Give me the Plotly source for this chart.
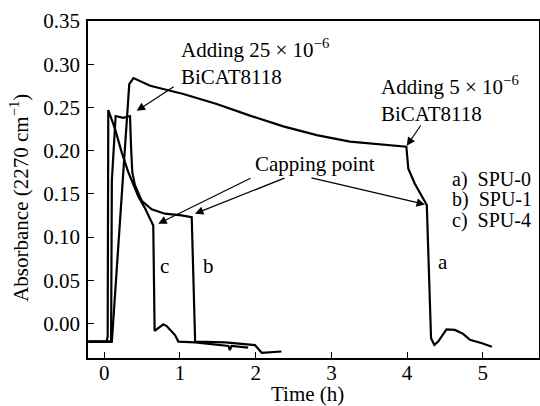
import plotly.graph_objects as go

# ---- data ----
a_time = [-0.21, 0.10, 0.33, 0.385, 0.606, 0.824, 1.044, 1.485, 1.925, 2.365, 2.806, 3.246,
          3.686, 3.99, 4.016, 4.10, 4.26, 4.316, 4.36, 4.41, 4.52, 4.63, 4.74, 4.83, 4.99, 5.12]
a_abs = [-0.021, -0.021, 0.277, 0.284, 0.275, 0.270, 0.2655, 0.254, 0.2405, 0.228, 0.218, 0.2105,
         0.2065, 0.2045, 0.179, 0.162, 0.137, -0.017, -0.025, -0.021, -0.007, -0.0075, -0.012,
         -0.019, -0.023, -0.027]

b_time = [-0.21, 0.09, 0.10, 0.15, 0.25, 0.34, 0.353, 0.37, 0.405, 0.494, 0.626, 0.80, 1.02,
          1.155, 1.20, 1.60, 1.99, 2.08, 2.34]
b_abs = [-0.021, -0.021, 0.165, 0.240, 0.238, 0.240, 0.2056, 0.175, 0.160, 0.142, 0.132, 0.127,
         0.125, 0.123, -0.021, -0.022, -0.025, -0.034, -0.0325]

c_time = [-0.21, 0.03, 0.045, 0.053, 0.143, 0.23, 0.317, 0.40, 0.45, 0.54, 0.647, 0.665, 0.78,
          0.824, 0.934, 0.978, 1.20, 1.64, 1.66, 1.68, 1.90]
c_abs = [-0.021, -0.021, -0.015, 0.247, 0.225, 0.198, 0.175, 0.158, 0.147, 0.133, 0.1134, -0.0085,
         -0.001, -0.003, -0.0135, -0.021, -0.022, -0.026, -0.031, -0.026, -0.028]

x_ticks = [0, 1, 2, 3, 4, 5]
y_ticks = [0.00, 0.05, 0.10, 0.15, 0.20, 0.25, 0.30, 0.35]

FONT = "Liberation Serif, Times New Roman, serif"
FS = 21

fig = go.Figure()
for xs, ys in [(a_time, a_abs), (b_time, b_abs), (c_time, c_abs)]:
    fig.add_trace(go.Scatter(x=xs, y=ys, mode="lines",
                             line=dict(color="black", width=2.2), showlegend=False,
                             hoverinfo="skip"))

ann = []
def txt(x, y, t, xa="left", ya="middle", ref="data", angle=0, size=FS):
    ann.append(dict(x=x, y=y, xref="x" if ref == "data" else "paper",
                    yref="y" if ref == "data" else "paper", text=t, showarrow=False,
                    xanchor=xa, yanchor=ya, align="left", textangle=angle,
                    font=dict(family=FONT, size=size, color="black")))

def arrow(tx, ty, hx, hy):
    ann.append(dict(x=hx, y=hy, ax=tx, ay=ty, xref="x", yref="y", axref="x", ayref="y",
                    text="", showarrow=True, arrowhead=2, arrowsize=1.4, arrowwidth=1.2,
                    arrowcolor="black"))

txt(0.985, 0.3026, "Adding 25 × 10<sup>−6</sup><br>BiCAT8118")
txt(3.63, 0.2596, "Adding 5 × 10<sup>−6</sup><br>BiCAT8118")
txt(1.966, 0.185, "Capping point")
txt(4.57, 0.1665, "a)  SPU-0", size=20)
txt(4.57, 0.1430, "b)  SPU-1", size=20)
txt(4.57, 0.1195, "c)  SPU-4", size=20)
txt(0.80, 0.067, "c", xa="center")
txt(1.37, 0.067, "b", xa="center")
txt(4.48, 0.071, "a", xa="center")
# axis titles
txt(0.4856, -0.108, "Time (h)", xa="center", ref="paper")
txt(-0.151, 0.475, "Absorbance (2270 cm<sup>−1</sup>)", xa="center", ref="paper", angle=-90)

arrow(0.937, 0.275, 0.428, 0.246)
arrow(4.193, 0.2308, 3.995, 0.2056)
arrow(1.951, 0.1688, 0.713, 0.1154)
arrow(2.40, 0.1688, 1.198, 0.127)
arrow(2.717, 0.1688, 4.236, 0.1377)

axis_common = dict(showline=True, linecolor="black", linewidth=1.5, mirror=True,
                   ticks="inside", ticklen=6, tickwidth=1.3, tickcolor="black",
                   showgrid=False, zeroline=False, automargin=False,
                   tickfont=dict(family=FONT, size=FS, color="black"))

fig.update_layout(
    width=540, height=406,
    margin=dict(l=88, r=1, t=21, b=48),
    paper_bgcolor="white", plot_bgcolor="white",
    font=dict(family=FONT, size=FS, color="black"),
    annotations=ann,
    xaxis=dict(range=[-0.215, 5.742], tickvals=x_ticks, ticktext=[str(v) for v in x_ticks],
               ticklabelstandoff=-5, **axis_common),
    yaxis=dict(range=[-0.04, 0.35], tickvals=y_ticks, ticktext=[f"{v:.2f}" for v in y_ticks],
               ticklabelstandoff=2, **axis_common),
)

fig.write_html("out.html", config={"displayModeBar": False},
               post_script="document.body.style.margin='0';document.body.style.overflow='hidden';")
